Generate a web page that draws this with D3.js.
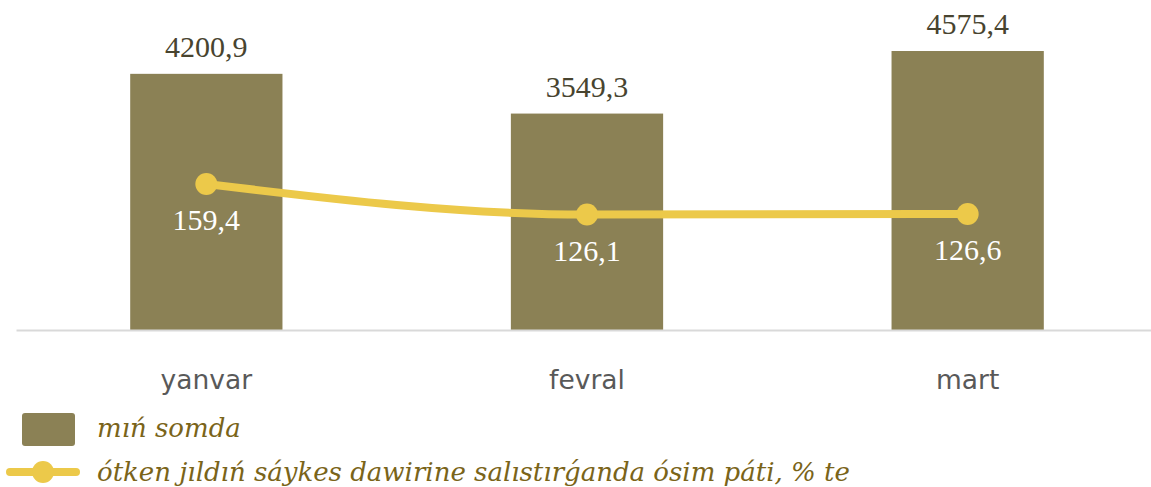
<!DOCTYPE html>
<html>
<head>
<meta charset="utf-8">
<script src="https://cdn.jsdelivr.net/npm/d3@7"></script>
<style>
  body { margin: 0; background: #fff; }
  svg { display: block; }
</style>
</head>
<body>
<div id="chart"></div>
<script>
// Chart size (matches the window)
var w = 1151;
var h = 487;

// Data
var months = ['yanvar', 'fevral', 'mart'];
var amounts = [4200.9, 3549.3, 4575.4];     // mıń somda
var growth = [159.4, 126.1, 126.6];         // % te
var amountLabels = ['4200,9', '3549,3', '4575,4'];
var growthLabels = ['159,4', '126,1', '126,6'];
var legendNames = ['mıń somda', 'ótken jıldıń sáykes dawirine salıstırǵanda ósim páti, % te'];

var barColor = '#8b8155';
var lineColor = '#ecc94a';

var svg = d3.select('#chart').append('svg')
	.attr('width', w)
	.attr('height', h);

var baseY = 330;

var x = d3.scaleBand()
	.domain(months)
	.range([16, 1158])
	.paddingInner(0.6)
	.paddingOuter(0.3);

var y = d3.scaleLinear()
	.domain([0, 4575.4])
	.range([baseY, 51]);

// secondary axis for the line
var y2 = d3.scaleLinear()
	.domain([0, 159.4])
	.range([baseY, 184]);

// bars
svg.append('g')
	.selectAll('rect')
	.data(amounts)
	.enter().append('rect')
	.attr('x', function(d, i) { return x(months[i]); })
	.attr('y', function(d) { return y(d); })
	.attr('width', x.bandwidth())
	.attr('height', function(d) { return baseY - y(d); })
	.attr('fill', barColor);

// axis line + category labels
var xAxis = d3.axisBottom(x).tickSize(0).tickPadding(40);
var ax = svg.append('g')
	.attr('transform', 'translate(0,' + baseY + ')')
	.call(xAxis);
ax.select('.domain').attr('stroke', '#d9d9d9').attr('stroke-width', 2);
ax.selectAll('text')
	.attr('fill', '#595959')
	.style('font-family', '"DejaVu Sans", Verdana, sans-serif')
	.style('font-size', '26.5px');

// bar value labels
svg.append('g')
	.selectAll('text')
	.data(amounts)
	.enter().append('text')
	.attr('x', function(d, i) { return x(months[i]) + x.bandwidth() / 2; })
	.attr('y', function(d) { return y(d) - 17; })
	.attr('text-anchor', 'middle')
	.attr('fill', '#48442f')
	.style('font-family', '"Liberation Serif", serif')
	.style('font-size', '30px')
	.text(function(d, i) { return amountLabels[i]; });

// growth line
var line = d3.line()
	.x(function(d, i) { return x(months[i]) + x.bandwidth() / 2; })
	.y(function(d) { return y2(d); })
	.curve(d3.curveMonotoneX);

svg.append('path')
	.datum(growth)
	.attr('d', line)
	.attr('fill', 'none')
	.attr('stroke', lineColor)
	.attr('stroke-width', 8)
	.attr('stroke-linecap', 'round');

svg.append('g')
	.selectAll('circle')
	.data(growth)
	.enter().append('circle')
	.attr('cx', function(d, i) { return x(months[i]) + x.bandwidth() / 2; })
	.attr('cy', function(d) { return y2(d); })
	.attr('r', 11)
	.attr('fill', lineColor);

svg.append('g')
	.selectAll('text')
	.data(growth)
	.enter().append('text')
	.attr('x', function(d, i) { return x(months[i]) + x.bandwidth() / 2; })
	.attr('y', function(d) { return y2(d) + 46; })
	.attr('text-anchor', 'middle')
	.attr('fill', '#ffffff')
	.style('font-family', '"Liberation Serif", serif')
	.style('font-size', '30px')
	.text(function(d, i) { return growthLabels[i]; });

// legend
var legend = svg.append('g');
legend.append('rect')
	.attr('x', 22).attr('y', 413)
	.attr('width', 53).attr('height', 33)
	.attr('rx', 3)
	.attr('fill', barColor);
legend.append('line')
	.attr('x1', 10).attr('x2', 76)
	.attr('y1', 472).attr('y2', 472)
	.attr('stroke', lineColor)
	.attr('stroke-width', 8)
	.attr('stroke-linecap', 'round');
legend.append('circle')
	.attr('cx', 43).attr('cy', 472).attr('r', 11)
	.attr('fill', lineColor);

legend.selectAll('text')
	.data(legendNames)
	.enter().append('text')
	.attr('x', 97)
	.attr('y', function(d, i) { return 437 + i * 44; })
	.attr('fill', '#7a6419')
	.style('font-family', '"DejaVu Serif", serif')
	.style('font-style', 'italic')
	.style('font-size', '26px')
	.text(function(d) { return d; });
</script>
</body>
</html>
